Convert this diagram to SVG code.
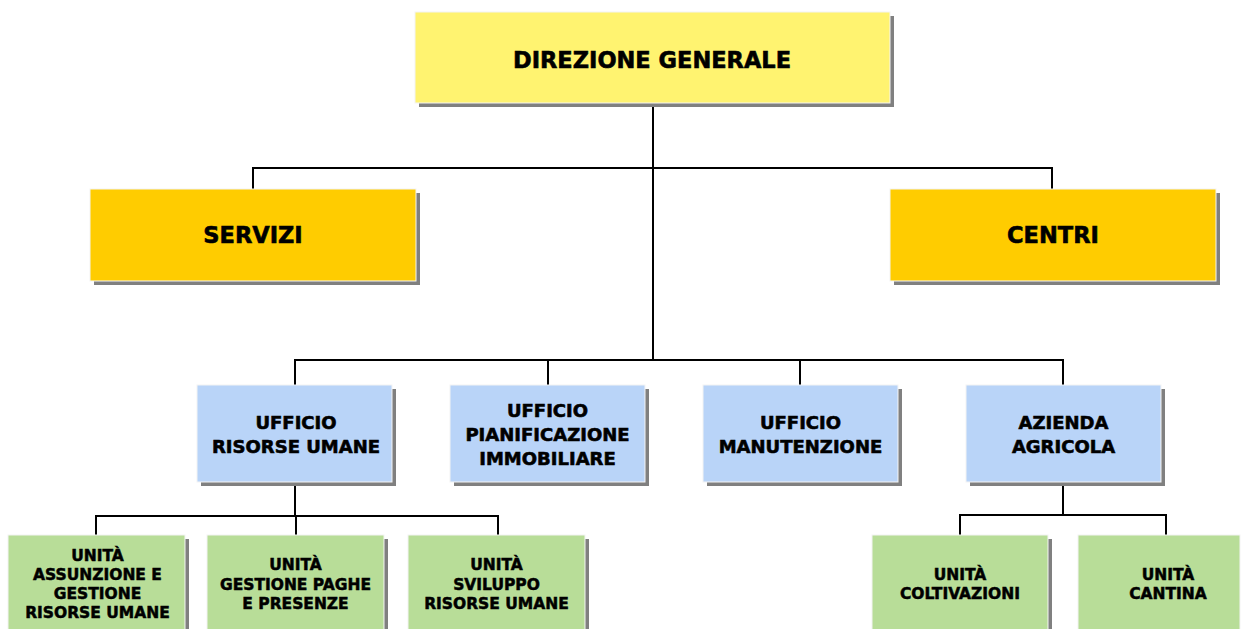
<svg xmlns="http://www.w3.org/2000/svg" width="1245" height="629" viewBox="0 0 1245 629">
<style>
.sh{fill:#808080}
.b{stroke:#f4f4f4;stroke-width:1}
.y1{fill:#fff370}
.y2{fill:#ffcc00}
.bl{fill:#b9d4f8}
.gr{fill:#b8dd98}
text{font-family:"DejaVu Sans",Verdana,sans-serif;font-weight:bold;fill:#000;stroke:#000;stroke-width:0.6;text-anchor:middle}
.t1{font-size:22.5px}
.t3{font-size:18px}
.t4{font-size:15.5px;stroke-width:0.5}
.c{fill:none;stroke:#000;stroke-width:2}
</style>
<rect width="1245" height="629" fill="#fff"/>
<g id="connectors">
<path class="c" d="M653 103V360M253 189V168H1052V189"/>
<path class="c" d="M295 385V360H1063V385M548 360V385M800 360V385"/>
<path class="c" d="M295 482V516M96 535V516H498V535M296 516V535"/>
<path class="c" d="M1063 482V515M960 535V515H1166V535"/>
</g>
<g id="n-direzione">
<rect class="sh" x="419" y="16" width="475" height="91"/>
<rect class="y1 b" x="415" y="12" width="475" height="91"/>
<text class="t1" x="652" y="68">DIREZIONE GENERALE</text>
</g>
<g id="n-servizi">
<rect class="sh" x="94" y="193" width="326" height="92"/>
<rect class="y2 b" x="90" y="189" width="326" height="92"/>
<text class="t1" x="253" y="243">SERVIZI</text>
</g>
<g id="n-centri">
<rect class="sh" x="894" y="193" width="326" height="92"/>
<rect class="y2 b" x="890" y="189" width="326" height="92"/>
<text class="t1" x="1053" y="243">CENTRI</text>
</g>
<g id="n-uru">
<rect class="sh" x="201" y="389" width="195" height="97"/>
<rect class="bl b" x="197" y="385" width="195" height="97"/>
<text class="t3" x="296" y="429">UFFICIO</text>
<text class="t3" x="296" y="453">RISORSE UMANE</text>
</g>
<g id="n-upi">
<rect class="sh" x="454" y="389" width="195" height="97"/>
<rect class="bl b" x="450" y="385" width="195" height="97"/>
<text class="t3" x="547.5" y="417">UFFICIO</text>
<text class="t3" x="547.5" y="441">PIANIFICAZIONE</text>
<text class="t3" x="547.5" y="465">IMMOBILIARE</text>
</g>
<g id="n-uma">
<rect class="sh" x="707" y="389" width="195" height="97"/>
<rect class="bl b" x="703" y="385" width="195" height="97"/>
<text class="t3" x="800.5" y="429">UFFICIO</text>
<text class="t3" x="800.5" y="453">MANUTENZIONE</text>
</g>
<g id="n-aza">
<rect class="sh" x="970" y="389" width="195" height="97"/>
<rect class="bl b" x="966" y="385" width="195" height="97"/>
<text class="t3" x="1063.5" y="429">AZIENDA</text>
<text class="t3" x="1063.5" y="453">AGRICOLA</text>
</g>
<g id="n-u1">
<rect class="sh" x="12" y="539" width="177" height="98"/>
<rect class="gr b" x="8" y="535" width="177" height="98"/>
<text class="t4" x="97.5" y="561">UNITÀ</text>
<text class="t4" x="97.5" y="580">ASSUNZIONE E</text>
<text class="t4" x="97.5" y="599">GESTIONE</text>
<text class="t4" x="97.5" y="618">RISORSE UMANE</text>
</g>
<g id="n-u2">
<rect class="sh" x="211" y="539" width="177" height="98"/>
<rect class="gr b" x="207" y="535" width="177" height="98"/>
<text class="t4" x="295.5" y="570">UNITÀ</text>
<text class="t4" x="295.5" y="590">GESTIONE PAGHE</text>
<text class="t4" x="295.5" y="609">E PRESENZE</text>
</g>
<g id="n-u3">
<rect class="sh" x="412" y="539" width="177" height="98"/>
<rect class="gr b" x="408" y="535" width="177" height="98"/>
<text class="t4" x="496.5" y="570">UNITÀ</text>
<text class="t4" x="496.5" y="590">SVILUPPO</text>
<text class="t4" x="496.5" y="609">RISORSE UMANE</text>
</g>
<g id="n-u4">
<rect class="sh" x="876" y="539" width="176" height="98"/>
<rect class="gr b" x="872" y="535" width="176" height="98"/>
<text class="t4" x="960" y="580">UNITÀ</text>
<text class="t4" x="960" y="599">COLTIVAZIONI</text>
</g>
<g id="n-u5">
<rect class="gr b" x="1078" y="535" width="162" height="98"/>
<text class="t4" x="1168" y="580">UNITÀ</text>
<text class="t4" x="1168" y="599">CANTINA</text>
</g>
</svg>
